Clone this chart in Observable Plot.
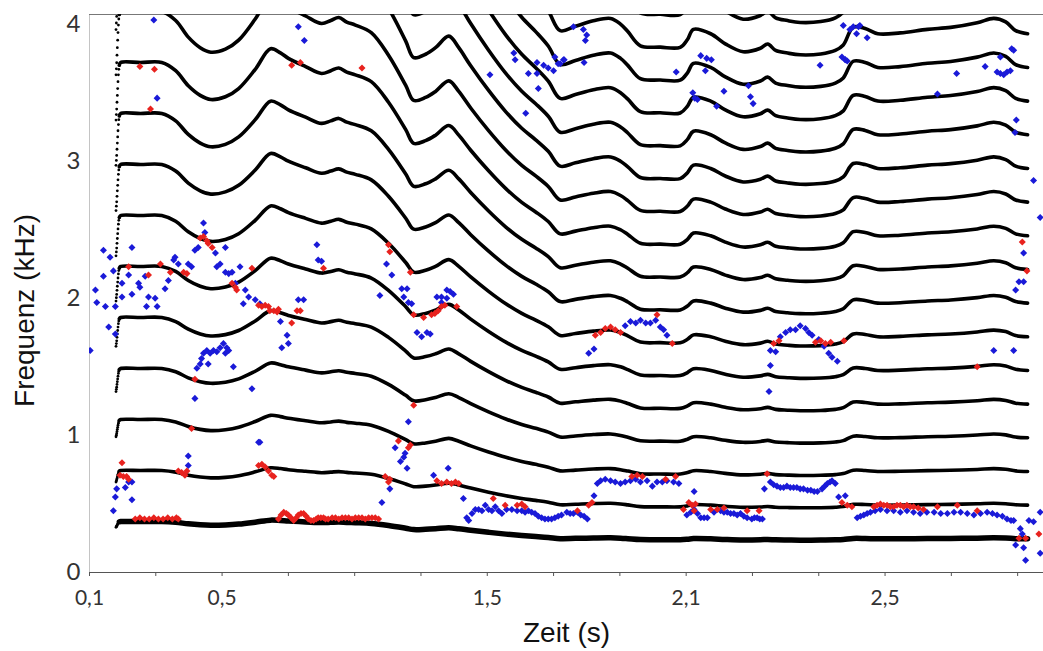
<!DOCTYPE html>
<html>
<head>
<meta charset="utf-8">
<script src="https://cdn.jsdelivr.net/npm/d3@7"></script>
<script src="https://cdn.jsdelivr.net/npm/@observablehq/plot@0.6"></script>
<style>
  html, body { margin: 0; padding: 0; background: #fff; }
  #chart svg { display: block; }
  #chart g[aria-label="x-axis tick label"] text { font-size: 21px !important; }
  #chart g[aria-label="y-axis tick label"] text { font-size: 24px !important; }
</style>
</head>
<body>
<div id="chart"></div>
<script>
// x values are in units of the axis tick step (tick i carries the label xTickLabels[i])
const xTickValues = [0, 1, 2, 3, 4, 5, 6, 7, 8, 9, 10, 11, 12, 13, 14];
const xTickLabels = ["0,1", "", "0,5", "", "", "", "1,5", "", "", "2,1", "", "", "2,5", "", ""];
const yTickValues = [0, 1, 2, 3, 4];
const xDomain = [0, 14.39];
const yDomain = [0, 4.07];

// fundamental frequency contour (kHz); the first 10 samples are the voicing onset
const onsetCount = 10;
const f0Time = [0.400, 0.405, 0.410, 0.415, 0.420, 0.425, 0.430, 0.436, 0.442, 0.450,
  0.47, 0.77, 1.09, 1.30, 1.49, 1.67, 1.83, 2.05, 2.25, 2.50, 2.73, 2.88, 3.00, 3.26, 3.50,
  3.64, 3.76, 3.88, 4.01, 4.25, 4.51, 4.77, 4.89, 5.07, 5.22, 5.42, 5.57, 5.75, 6.02, 6.28,
  6.52, 6.73, 6.92, 7.10, 7.33, 7.60, 7.86, 8.01, 8.12, 8.31, 8.61, 8.91, 9.02, 9.11, 9.37,
  9.59, 9.86, 10.12, 10.23, 10.35, 10.53, 10.72, 11.03, 11.25, 11.37, 11.52, 11.70, 11.89,
  12.23, 12.64, 12.99, 13.39, 13.64, 13.82, 13.97, 14.15];
const f0Value = [0.330, 0.334, 0.338, 0.343, 0.348, 0.353, 0.358, 0.363, 0.367, 0.370,
  0.372, 0.372, 0.372, 0.366, 0.355, 0.348, 0.345, 0.347, 0.353, 0.367, 0.382, 0.379, 0.375, 0.369, 0.364,
  0.366, 0.368, 0.365, 0.363, 0.358, 0.343, 0.323, 0.313, 0.315, 0.319, 0.326, 0.319, 0.308, 0.293, 0.280,
  0.270, 0.263, 0.256, 0.247, 0.249, 0.2515, 0.2526, 0.250, 0.2466, 0.2401, 0.2395, 0.2394, 0.243, 0.2476, 0.2456,
  0.241, 0.2374, 0.239, 0.2409, 0.238, 0.2368, 0.236, 0.2364, 0.238, 0.2405, 0.2486, 0.248, 0.2456,
  0.246, 0.2476, 0.2485, 0.2506, 0.2526, 0.251, 0.247, 0.2456];
const harmonicNumbers = [1, 2, 3, 4, 5, 6, 7, 8, 9, 10, 11, 12, 13, 14, 15, 16, 17];

// blue and red markers [time, kHz]
const bluePoints = [
  [0.21,2.35],[0.31,2.30],[0.64,2.37],[0.09,2.06],[0.21,2.16],[0.36,2.20],[0.49,2.11],[0.11,1.97],[0.24,1.94],[0.39,1.94],
  [0.59,2.17],[0.74,2.11],[0.76,2.08],[0.64,2.03],[0.49,2.01],[0.84,2.16],[0.89,2.01],[0.99,2.00],[0.86,1.94],[1.02,1.94],
  [1.14,2.07],[1.19,2.13],[1.27,2.28],[1.29,2.30],[1.34,2.25],[1.49,2.25],[1.54,2.23],[1.59,2.35],[1.64,2.37],[1.72,2.55],
  [1.74,2.48],[1.90,2.33],[1.92,2.23],[1.97,2.25],[2.05,2.37],[2.05,2.19],[2.10,2.18],[2.15,2.19],[2.27,2.23],[2.20,2.11],
  [2.35,2.06],[2.40,2.01],[2.32,1.96],[2.50,1.99],[2.57,1.96],[2.88,1.83],[2.98,1.73],[2.90,1.64],[3.00,1.67],[3.15,1.99],
  [3.23,1.99],[3.43,2.39],[3.45,2.28],[3.50,2.27],[0.29,1.79],[0.39,1.74],[0.01,1.62],
  [1.62,1.49],[1.67,1.52],[1.72,1.60],[1.77,1.62],[1.82,1.60],[1.87,1.62],[1.92,1.61],[1.97,1.64],[2.02,1.67],[2.07,1.64],
  [2.10,1.62],[2.05,1.60],[1.79,1.52],[1.69,1.56],[2.17,1.50],[2.45,1.34],[1.59,1.27],[2.57,0.95],
  [4.48,2.25],[4.56,2.17],[4.38,2.02],[4.71,2.07],[4.79,2.07],[4.74,2.01],[4.81,1.97],[4.86,1.96],[4.94,1.75],[5.01,1.72],
  [5.09,1.75],[5.14,1.74],[5.24,2.01],[5.31,2.01],[5.39,2.06],[5.44,2.05],[5.49,2.03],[5.39,2.00],[5.31,1.97],[4.81,1.10],[4.61,0.91],
  [0.36,0.45],[0.39,0.55],[0.41,0.61],[0.54,0.62],[0.59,0.66],[0.64,0.66],[0.64,0.53],[1.49,0.85],[1.49,0.78],[2.55,0.95],
  [4.69,0.81],[4.74,0.84],[4.76,0.87],[4.79,0.76],[4.53,0.61],[4.41,0.51],[5.19,0.71],[5.41,0.76],[5.64,0.54],
  [5.69,0.40],[5.72,0.38],[5.77,0.43],[5.82,0.46],[5.87,0.46],[5.92,0.45],[5.97,0.49],[6.02,0.46],[6.07,0.45],[6.12,0.48],
  [6.17,0.45],[6.22,0.43],[6.29,0.46],[6.37,0.46],[6.45,0.45],[6.52,0.45],[6.57,0.44],[6.62,0.45],[6.67,0.44],[6.72,0.43],
  [6.77,0.41],[6.82,0.40],[6.87,0.39],[6.92,0.39],[6.97,0.39],[7.02,0.40],[7.07,0.41],[7.12,0.42],
  [7.20,0.44],[7.25,0.43],[7.30,0.43],[7.36,0.44],[7.41,0.42],[7.46,0.41],[7.51,0.39],[7.61,0.56],[7.66,0.65],
  [7.71,0.67],[7.78,0.68],[7.86,0.67],[7.93,0.66],[8.01,0.65],[8.08,0.66],[8.16,0.67],[8.24,0.68],[8.31,0.66],[8.41,0.67],
  [8.49,0.63],[8.56,0.66],[8.64,0.66],[8.71,0.67],[8.81,0.66],[8.89,0.65],[9.12,0.59],
  [9.01,0.42],[9.07,0.44],[9.12,0.46],[9.17,0.43],[9.22,0.40],[9.27,0.40],[9.32,0.40],[9.42,0.44],[9.52,0.45],[9.57,0.44],
  [9.62,0.44],[9.67,0.43],[9.72,0.43],[9.77,0.42],[9.82,0.43],[9.87,0.41],[9.92,0.40],[9.99,0.39],[10.03,0.40],[10.07,0.40],[10.11,0.39],[10.15,0.39],
  [10.18,0.61],[10.27,0.66],[10.32,0.64],[10.37,0.63],[10.42,0.62],[10.47,0.62],[10.52,0.63],[10.57,0.62],[10.62,0.62],[10.67,0.62],
  [10.72,0.61],[10.77,0.61],[10.83,0.60],[10.88,0.60],[10.93,0.59],[10.98,0.59],[11.05,0.61],[11.09,0.63],[11.13,0.65],[11.17,0.66],
  [11.20,0.67],[11.25,0.65],[11.30,0.55],[11.40,0.56],
  [11.58,0.40],[11.63,0.41],[11.68,0.42],[11.73,0.43],[11.78,0.44],[11.85,0.45],[11.93,0.46],[12.03,0.45],[12.13,0.45],[12.23,0.44],
  [12.33,0.45],[12.43,0.44],[12.53,0.43],[12.63,0.44],[12.74,0.44],[12.84,0.43],[12.94,0.43],[13.04,0.44],[13.14,0.44],[13.24,0.43],
  [13.34,0.42],[13.44,0.43],[13.54,0.44],[13.62,0.43],[13.69,0.42],[13.77,0.41],[13.84,0.39],[13.90,0.38],[13.94,0.38],
  [14.04,0.32],[13.97,0.20],[14.09,0.18],[14.12,0.09],[14.17,0.38],[14.24,0.37],[14.34,0.44],[14.34,0.14],[14.07,0.28],
  [7.53,1.60],[7.61,1.63],
  [8.08,1.80],[8.16,1.83],[8.24,1.82],[8.31,1.84],[8.39,1.82],[8.46,1.82],[8.54,1.84],[8.61,1.79],[8.66,1.77],[8.71,1.73],
  [10.27,1.62],[10.35,1.61],[10.42,1.72],[10.50,1.75],[10.57,1.77],[10.65,1.77],[10.72,1.80],[10.80,1.78],[10.85,1.75],[10.90,1.73],
  [11.00,1.70],[11.08,1.65],[11.15,1.60],[11.20,1.57],[11.28,1.54],[10.27,1.51],[10.25,1.32],
  [13.64,1.62],[13.94,1.62],[13.97,2.06],[14.02,2.12],[14.09,2.12],[14.09,2.33],[14.24,2.86],[14.34,2.59],
  [0.97,4.03],[1.02,3.46],[3.15,3.98],[3.24,3.88],[6.04,3.63],[6.40,3.79],[6.42,3.74],[6.75,3.72],[6.62,3.64],[6.75,3.64],
  [6.85,3.70],[6.92,3.68],[7.00,3.66],[7.02,3.76],[7.07,3.71],[7.15,3.74],[6.77,3.53],[6.58,3.35],
  [7.30,3.98],[7.45,3.96],[7.50,3.92],[7.48,3.88],[7.16,3.74],[7.10,3.71],[7.46,3.72],[8.85,3.65],[9.22,3.77],[9.31,3.75],
  [9.38,3.74],[9.29,3.66],[9.10,3.50],[9.13,3.46],[9.17,3.45],[9.46,3.40],[9.57,3.51],[9.94,3.55],[9.97,3.47],[10.01,3.42],
  [11.02,3.70],[11.35,3.76],[11.40,3.74],
  [11.37,3.99],[11.47,3.96],[11.52,3.98],[11.60,3.98],[11.62,3.99],[11.57,3.93],[11.73,3.90],[11.40,3.74],[11.43,3.73],[13.08,3.64],
  [13.51,3.69],[13.69,3.65],[13.74,3.64],[13.79,3.63],[13.84,3.65],[13.89,3.66],[13.74,3.76],[13.91,3.82],[13.94,3.81],[12.79,3.49],
  [13.98,3.30],[13.96,3.21]
];
const redPoints = [
  [0.59,2.23],[0.89,2.17],[1.07,2.25],[1.22,2.19],[1.42,2.19],[1.47,2.18],[1.67,2.44],[1.72,2.45],[1.77,2.42],[1.79,2.40],
  [1.85,2.37],[2.15,2.11],[2.20,2.08],[2.22,2.06],[2.45,2.22],[2.55,1.95],[2.60,1.94],[2.65,1.95],[2.70,1.94],[2.72,1.91],
  [2.78,1.91],[2.83,1.90],[2.85,1.92],[3.05,1.82],[3.13,1.91],[3.18,1.91],[3.53,2.22],[1.59,1.41],[1.54,1.05],[4.51,2.39],
  [4.53,2.34],[4.84,2.19],[4.89,1.88],[5.04,1.86],[5.16,1.88],[5.21,1.89],[5.26,1.91],[5.31,1.94],[5.36,1.95],[5.54,1.94],
  [4.89,1.22],[4.66,0.96],[4.84,0.93],[4.81,0.91],
  [0.49,0.80],[0.46,0.71],[0.51,0.70],[0.56,0.70],[0.59,0.68],
  [0.69,0.39],[0.76,0.40],[0.83,0.39],[0.90,0.39],[0.97,0.40],[1.04,0.39],[1.11,0.39],[1.18,0.40],[1.25,0.39],[1.31,0.40],[1.34,0.39],
  [1.34,0.74],[1.39,0.73],[1.44,0.71],[1.47,0.74],
  [2.55,0.78],[2.60,0.79],[2.65,0.77],[2.70,0.74],[2.75,0.71],[2.78,0.70],
  [2.85,0.39],[2.89,0.42],[2.93,0.44],[2.97,0.43],[3.00,0.42],[3.04,0.40],[3.08,0.38],[3.12,0.40],[3.15,0.42],[3.19,0.43],
  [3.23,0.43],[3.27,0.41],[3.30,0.39],[3.34,0.38],[3.38,0.38],[3.42,0.39],[3.45,0.40],[3.49,0.40],[3.53,0.40],[3.56,0.39],
  [3.60,0.39],[3.66,0.40],[3.71,0.40],[3.76,0.39],[3.81,0.40],[3.86,0.40],[3.91,0.40],[3.96,0.39],[4.01,0.40],[4.06,0.40],
  [4.11,0.40],[4.16,0.39],[4.21,0.40],[4.26,0.40],[4.31,0.40],[4.36,0.39],
  [4.46,0.70],[4.51,0.66],[4.53,0.68],
  [5.24,0.67],[5.31,0.65],[5.39,0.66],[5.46,0.65],[5.52,0.66],[5.57,0.65],
  [6.09,0.54],[6.27,0.49],[6.45,0.49],[6.52,0.50],[6.57,0.48],
  [7.36,0.45],[7.53,0.49],[7.58,0.51],
  [8.18,0.70],[8.26,0.71],[8.34,0.70],[8.69,0.68],[8.84,0.70],
  [8.96,0.46],[9.04,0.51],[9.09,0.49],[9.14,0.50],[9.12,0.45],
  [9.37,0.46],[9.47,0.46],[9.57,0.47],[9.92,0.45],[10.10,0.45],[10.22,0.72],
  [11.35,0.51],[11.43,0.49],[11.50,0.48],
  [11.83,0.48],[11.88,0.49],[11.93,0.50],[11.98,0.49],[12.03,0.49],[12.08,0.48],[12.13,0.48],[12.18,0.49],[12.23,0.49],[12.28,0.48],
  [12.33,0.49],[12.38,0.48],[12.43,0.48],[12.50,0.47],[12.58,0.46],[12.79,0.48],[13.09,0.49],[13.39,0.45],
  [14.02,0.25],[14.12,0.25],[14.32,0.28],
  [7.63,1.73],[7.71,1.75],[7.78,1.78],[7.86,1.79],[7.93,1.77],[8.01,1.75],[8.56,1.88],[8.79,1.67],
  [10.32,1.67],[10.40,1.69],[10.95,1.68],[11.03,1.69],[11.10,1.67],[11.18,1.68],[11.38,1.69],
  [13.39,1.50],[14.07,2.41],[14.14,2.20],
  [0.76,3.69],[0.98,3.67],[0.92,3.38],[3.05,3.70],[3.18,3.72],[4.11,3.68]
];

const harmonicRows = harmonicNumbers.flatMap(k =>
  f0Time.map((t, i) => ({t, f: k * f0Value[i], k, i})));
const lineRows = harmonicRows.filter(d => d.i >= onsetCount - 1);
const onsetRows = harmonicRows.filter(d => d.i < onsetCount);

const tickFont = "Lato, 'Open Sans', sans-serif";
const titleFont = "'Liberation Sans', Arial, sans-serif";

const chart = Plot.plot({
  width: 1043,
  height: 651,
  marginLeft: 89,
  marginRight: 0,
  marginTop: 14,
  marginBottom: 79,
  style: {background: "#fff", fontFamily: tickFont},
  x: {domain: xDomain, label: null},
  y: {domain: yDomain, label: null},
  marks: [
    Plot.ruleX([xDomain[0]], {stroke: "#c4c4c4", strokeWidth: 1}),
    Plot.ruleY([yDomain[1]], {stroke: "#777", strokeWidth: 1.2}),
    Plot.line(lineRows.filter(d => d.k > 1), {x: "t", y: "f", z: "k", curve: "catmull-rom", stroke: "#000", strokeWidth: 3.6, strokeLinejoin: "round", clip: true}),
    Plot.line(lineRows.filter(d => d.k === 1), {x: "t", y: "f", z: "k", curve: "catmull-rom", stroke: "#000", strokeWidth: 5.5, strokeLinejoin: "round", clip: true}),
    Plot.dot(onsetRows, {x: "t", y: "f", r: 1.4, fill: "#000", stroke: null, clip: true}),
    Plot.dot(bluePoints, {x: d => d[0], y: d => d[1], symbol: "square", rotate: 45, r: 2.8, fill: "#1a1ad8", stroke: null, clip: true}),
    Plot.dot(redPoints, {x: d => d[0], y: d => d[1], symbol: "square", rotate: 45, r: 2.8, fill: "#e8221e", stroke: null, clip: true}),
    Plot.ruleY([0], {stroke: "#555", strokeWidth: 1.2}),
    Plot.axisX({ticks: xTickValues, tickFormat: d => xTickLabels[d], tickSize: 4, tickPadding: 14, stroke: "#555", fill: "#333", fontSize: 21, fontFamily: tickFont, label: null}),
    Plot.axisY({ticks: yTickValues, tickFormat: d => String(d), tickSize: 0, tickPadding: 9, fill: "#333", fontSize: 24, fontFamily: tickFont, label: null}),
    Plot.text(["Zeit (s)"], {frameAnchor: "bottom", dy: 61, lineAnchor: "middle", textAnchor: "middle", text: d => d, fontSize: 28, fontFamily: titleFont, fill: "#111"}),
    Plot.text(["Frequenz (kHz)"], {frameAnchor: "left", dx: -64, dy: 17, rotate: -90, lineAnchor: "middle", textAnchor: "middle", text: d => d, fontSize: 28, fontFamily: titleFont, fill: "#111"})
  ]
});
document.getElementById("chart").append(chart);
</script>
</body>
</html>
